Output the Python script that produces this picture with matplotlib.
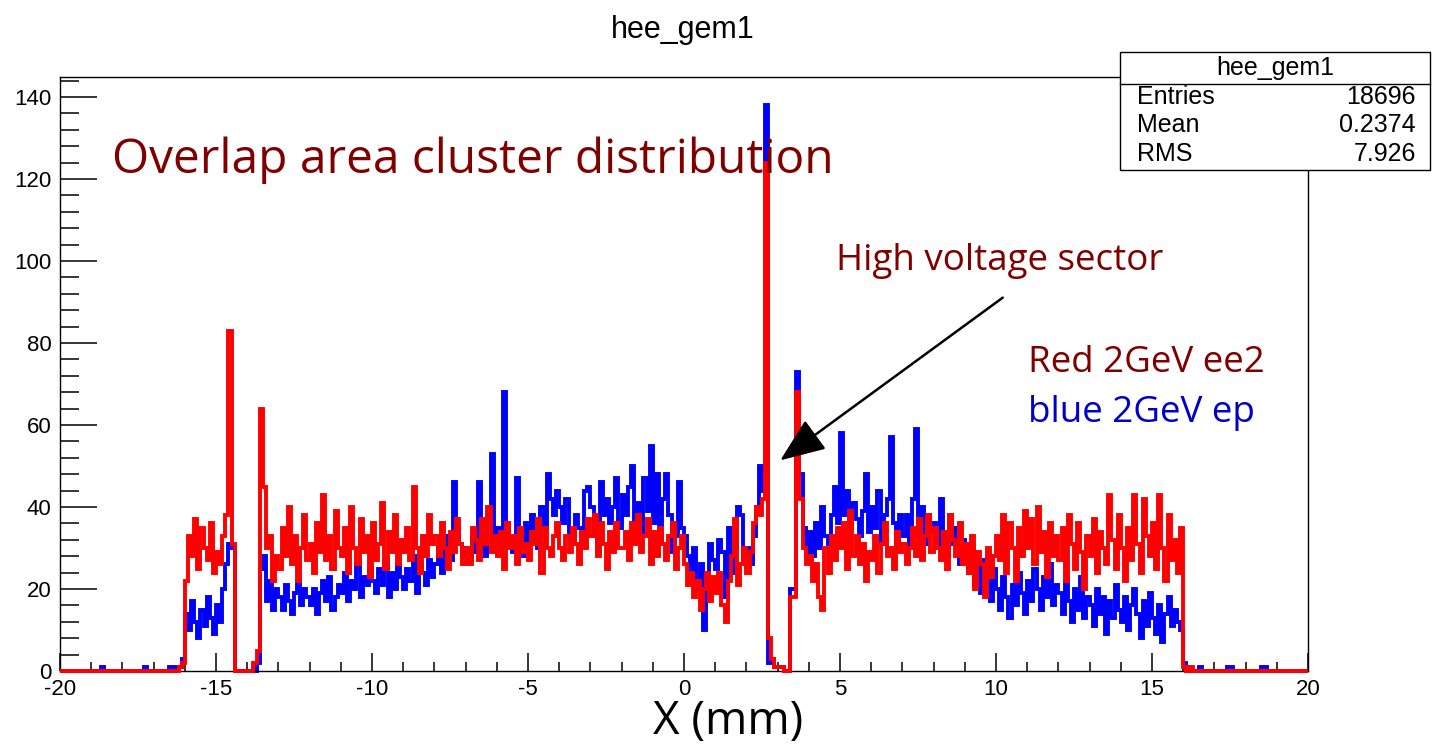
import numpy as np
import matplotlib.pyplot as plt
from matplotlib.patches import Rectangle, FancyArrowPatch
from matplotlib.ticker import MultipleLocator

# histogram binning: 400 bins of 0.1 mm over [-20, 20]
edges = np.linspace(-20, 20, 401)

# blue: 2 GeV ep, one row per mm
blue_ep = [
    0, 0, 0, 0, 0, 0, 0, 0, 0, 0,            # -20
    0, 0, 0, 1, 0, 0, 0, 0, 0, 0,            # -19
    0, 0, 0, 0, 0, 0, 0, 1, 0, 0,            # -18
    0, 0, 0, 0, 0, 1, 0, 1, 1, 3,            # -17
    14, 10, 17, 12, 8, 15, 11, 18, 13, 9,    # -16
    16, 12, 20, 26, 31, 30, 0, 0, 0, 0,      # -15
    0, 0, 0, 2, 25, 28, 17, 22, 15, 20,      # -14
    18, 15, 21, 17, 14, 19, 22, 16, 20, 18,  # -13
    16, 20, 14, 19, 22, 17, 23, 15, 18, 21,  # -12
    19, 24, 17, 22, 20, 26, 18, 23, 21, 25,  # -11
    22, 19, 25, 21, 27, 18, 24, 20, 26, 23,  # -10
    20, 25, 22, 28, 19, 26, 24, 21, 27, 23,  # -9
    26, 30, 24, 33, 29, 27, 46, 35, 31, 28,  # -8
    30, 27, 33, 29, 46, 31, 28, 38, 53, 33,  # -7
    35, 30, 68, 36, 32, 29, 47, 34, 28, 36,  # -6
    31, 38, 33, 30, 40, 35, 48, 42, 38, 44,  # -5
    40, 36, 42, 34, 31, 38, 35, 32, 44, 45,  # -4
    40, 33, 29, 46, 38, 42, 36, 40, 47, 35,  # -3
    43, 38, 45, 50, 36, 41, 34, 47, 39, 55,  # -2
    36, 48, 31, 42, 48, 38, 29, 33, 46, 35,  # -1
    33, 28, 24, 30, 20, 26, 10, 22, 31, 27,  # 0
    25, 32, 29, 18, 35, 24, 30, 40, 38, 27,  # 1
    30, 26, 33, 40, 50, 44, 138, 2, 3, 1,    # 2
    1, 1, 0, 0, 20, 20, 73, 48, 35, 28,      # 3
    34, 28, 36, 30, 40, 33, 31, 38, 45, 36,  # 4
    58, 38, 44, 35, 41, 37, 33, 39, 48, 34,  # 5
    40, 35, 44, 31, 38, 42, 57, 36, 30, 38,  # 6
    33, 38, 30, 42, 59, 35, 40, 31, 38, 34,  # 7
    36, 30, 42, 33, 28, 38, 31, 35, 26, 32,  # 8
    28, 24, 30, 21, 26, 19, 27, 22, 17, 25,  # 9
    20, 15, 23, 18, 13, 21, 16, 24, 19, 14,  # 10
    22, 17, 25, 20, 15, 23, 18, 26, 16, 21,  # 11
    19, 14, 22, 17, 12, 20, 15, 23, 13, 18,  # 12
    16, 11, 20, 14, 18, 9, 17, 13, 21, 15,   # 13
    12, 18, 10, 16, 20, 14, 8, 17, 11, 19,   # 14
    13, 9, 16, 7, 14, 18, 11, 15, 12, 10,    # 15
    2, 1, 0, 0, 0, 1, 0, 0, 0, 0,            # 16
    0, 0, 0, 0, 1, 1, 0, 0, 0, 0,            # 17
    0, 0, 0, 0, 0, 1, 1, 0, 0, 0,            # 18
    0, 0, 0, 0, 0, 0, 0, 0, 0, 0,            # 19
]

# red: 2 GeV ee2
red_ee2 = [
    0, 0, 0, 0, 0, 0, 0, 0, 0, 0,            # -20
    0, 0, 0, 0, 0, 0, 0, 0, 0, 0,            # -19
    0, 0, 0, 0, 0, 0, 0, 0, 0, 0,            # -18
    0, 0, 0, 0, 0, 0, 0, 0, 1, 2,            # -17
    22, 33, 28, 37, 25, 35, 30, 27, 36, 24,  # -16
    29, 26, 33, 38, 83, 31, 0, 0, 0, 0,      # -15
    0, 0, 2, 5, 64, 45, 30, 33, 22, 28,      # -14
    25, 35, 28, 40, 26, 33, 22, 30, 38, 27,  # -13
    31, 24, 36, 29, 43, 27, 33, 25, 39, 30,  # -12
    28, 35, 24, 40, 30, 26, 37, 29, 33, 23,  # -11
    36, 27, 31, 41, 25, 34, 29, 38, 26, 32,  # -10
    29, 35, 27, 45, 30, 24, 33, 28, 38, 31,  # -9
    33, 28, 36, 30, 25, 34, 29, 37, 31, 26,  # -8
    30, 26, 35, 32, 27, 37, 31, 40, 29, 33,  # -7
    28, 34, 25, 36, 30, 33, 26, 35, 29, 31,  # -6
    27, 34, 31, 37, 24, 35, 30, 28, 33, 36,  # -5
    30, 27, 33, 29, 35, 31, 26, 34, 30, 37,  # -4
    33, 38, 28, 36, 31, 25, 34, 29, 36, 30,  # -3
    30, 34, 27, 36, 31, 38, 29, 33, 37, 26,  # -2
    34, 28, 35, 31, 27, 33, 36, 25, 30, 33,  # -1
    26, 21, 24, 18, 22, 15, 20, 24, 17, 23,  # 0
    19, 24, 16, 12, 22, 28, 37, 21, 26, 30,  # 1
    24, 29, 36, 40, 38, 42, 124, 8, 3, 1,    # 2
    1, 1, 0, 0, 18, 18, 68, 42, 30, 26,      # 3
    28, 22, 26, 18, 15, 30, 24, 33, 27, 35,  # 4
    30, 36, 25, 39, 28, 33, 26, 31, 22, 29,  # 5
    27, 33, 24, 31, 36, 28, 30, 25, 34, 29,  # 6
    31, 26, 30, 35, 28, 37, 27, 33, 38, 29,  # 7
    35, 30, 27, 34, 25, 38, 32, 28, 36, 26,  # 8
    31, 24, 33, 20, 29, 26, 18, 30, 23, 28,  # 9
    33, 27, 38, 24, 36, 30, 22, 35, 28, 39,  # 10
    30, 37, 26, 40, 29, 34, 23, 36, 28, 33,  # 11
    27, 35, 22, 38, 31, 25, 36, 29, 20, 33,  # 12
    28, 37, 24, 34, 30, 26, 43, 32, 25, 38,  # 13
    30, 22, 35, 27, 43, 31, 24, 42, 33, 28,  # 14
    36, 25, 43, 30, 22, 38, 27, 32, 24, 35,  # 15
    1, 0, 1, 0, 0, 0, 0, 0, 0, 0,            # 16
    0, 0, 0, 0, 0, 0, 0, 0, 0, 0,            # 17
    0, 0, 0, 0, 0, 0, 0, 0, 0, 0,            # 18
    0, 0, 0, 0, 0, 0, 0, 0, 0, 0,            # 19
]

stat_names = ["Entries", "Mean", "RMS"]
stat_values = ["18696", "0.2374", "7.926"]

W, H = 1435, 748
plt.rcParams['font.family'] = ['Liberation Sans', 'DejaVu Sans']
plt.rcParams['axes.unicode_minus'] = False

fig = plt.figure(figsize=(W / 100, H / 100), dpi=100)
ax = fig.add_axes([60 / W, 77 / H, 1248 / W, 594 / H])


def px(x, y):
    # pixel position -> figure fraction
    return x / W, 1 - y / H


ax.stairs(blue_ep, edges, color='#0000ff', lw=2.8, clip_on=False, zorder=2)
ax.stairs(red_ee2, edges, color='#ff0000', lw=2.8, clip_on=False, zorder=3)

ax.set_xlim(-20, 20)
ax.set_ylim(0, 1.05 * max(blue_ep))

ax.xaxis.set_major_locator(MultipleLocator(5))
ax.xaxis.set_minor_locator(MultipleLocator(1))
ax.yaxis.set_major_locator(MultipleLocator(20))
ax.yaxis.set_minor_locator(MultipleLocator(4))
ax.tick_params(axis='both', which='both', direction='in', width=1.1,
               top=False, right=False, labelsize=16, color='black')
ax.tick_params(axis='y', which='major', length=26.5, pad=6)
ax.tick_params(axis='y', which='minor', length=13.5)
ax.tick_params(axis='x', which='major', length=13, pad=6)
ax.tick_params(axis='x', which='minor', length=6.5)
for s in ax.spines.values():
    s.set_linewidth(1.0)

# axis title sits right of centre, below the tick labels
fig.text(*px(728, 722), 'X (mm)', family='Open Sans', fontsize=33,
         ha='center', va='center')

fig.text(*px(683, 30), 'hee_gem1', fontsize=22, ha='center', va='center')

# statistics box
bx0, by0, bx1, by1 = 1120, 52, 1430, 170
fig.patches.append(Rectangle(px(bx0, by1), (bx1 - bx0) / W, (by1 - by0) / H,
                             transform=fig.transFigure, facecolor='white',
                             edgecolor='black', lw=1.0, zorder=5))
fig.add_artist(plt.Line2D([bx0 / W, bx1 / W], [1 - 84 / H, 1 - 84 / H],
                          transform=fig.transFigure, color='black', lw=1.0, zorder=6))
fig.text(*px((bx0 + bx1) / 2, 68), 'hee_gem1', fontsize=18, ha='center', va='center', zorder=7)
for i, (name, val) in enumerate(zip(stat_names, stat_values)):
    yy = 97 + i * 28.5
    fig.text(*px(1137, yy), name, fontsize=18, ha='left', va='center', zorder=7)
    fig.text(*px(1416, yy), val, fontsize=18, ha='right', va='center', zorder=7)

dark_red = '#800000'
fig.text(*px(112, 160), 'Overlap area cluster distribution', family='Open Sans',
         fontsize=34.5, color=dark_red, ha='left', va='center')
fig.text(*px(836, 261), 'High voltage sector', family='Open Sans',
         fontsize=26.5, color=dark_red, ha='left', va='center')
fig.text(*px(1028, 363), 'Red 2GeV ee2', family='Open Sans',
         fontsize=26.5, color=dark_red, ha='left', va='center')
fig.text(*px(1028, 413), 'blue 2GeV ep', family='Open Sans',
         fontsize=26.5, color='#0000cc', ha='left', va='center')

arrow = FancyArrowPatch(px(1005, 296), px(778, 462), transform=fig.transFigure,
                        arrowstyle='-|>,head_length=2.0,head_width=0.8',
                        mutation_scale=14, color='black', lw=1.8, zorder=8)
fig.patches.append(arrow)

fig.savefig('out.png', dpi=100)
